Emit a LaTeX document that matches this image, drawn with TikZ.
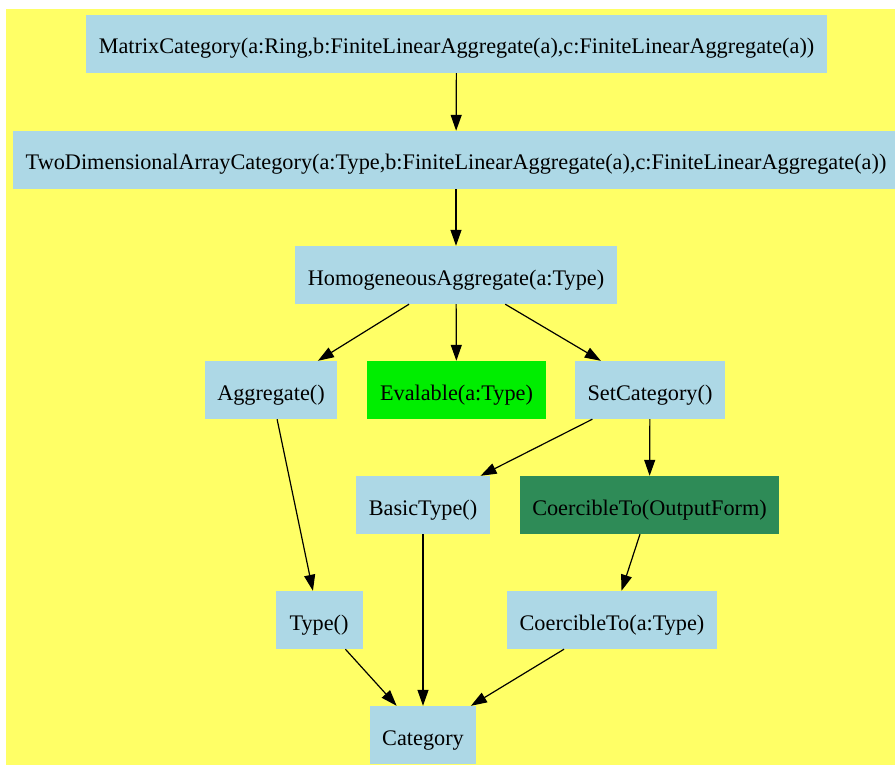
\documentclass[tikz,border=0pt]{standalone}
\usepackage{xcolor}
\usepackage{fontspec}
\setmainfont{Liberation Serif}
\usepackage{tikz}
\usetikzlibrary{arrows.meta}

\definecolor{bgyellow}{HTML}{FFFF66}
\definecolor{boxblue}{HTML}{ADD8E6}
\definecolor{evalgreen}{HTML}{00EE00}
\definecolor{seagreen}{HTML}{2E8B57}

\begin{document}
\begin{tikzpicture}[
    x=1pt, y=-1pt,
    every node/.style={font=\fontsize{22.25}{27}\selectfont},
    cat/.style={rectangle, fill=boxblue, minimum height=58pt,
                minimum width=87pt, inner xsep=12.7pt, inner ysep=0pt,
                text height=24pt, text depth=4pt},
    catgreen/.style={cat, fill=evalgreen},
    catsea/.style={cat, fill=seagreen},
    arr/.style={-{Triangle[length=16pt,width=11pt]}, line width=1.2pt}
  ]

  \useasboundingbox (0,0) rectangle (895,765);
  \fill[bgyellow] (6,9) rectangle (895,765);

  \node[cat]      (mat)   at (456.5,44)  {MatrixCategory(a:Ring,b:FiniteLinearAggregate(a),c:FiniteLinearAggregate(a))};
  \node[cat]      (twod)  at (456,160)   {TwoDimensionalArrayCategory(a:Type,b:FiniteLinearAggregate(a),c:FiniteLinearAggregate(a))};
  \node[cat]      (homog) at (456,275)   {HomogeneousAggregate(a:Type)};

  \node[cat]      (aggr)  at (271,390)   {Aggregate()};
  \node[catgreen] (eval)  at (456.5,390) {Evalable(a:Type)};
  \node[cat]      (setc)  at (650,390)   {SetCategory()};

  \node[cat]      (basic) at (423,505)   {BasicType()};
  \node[catsea]   (coerO) at (649.5,505) {CoercibleTo(OutputForm)};

  \node[cat]      (typ)   at (319,620)   {Type()};
  \node[cat]      (coerT) at (612,620)   {CoercibleTo(a:Type)};

  \node[cat]      (categ) at (423,735)   {Category};

  %% top chain
  \draw[arr] (mat)   -- (twod);
  \draw[arr] (twod)  -- (homog);

  %% fan out
  \draw[arr] (homog) -- (aggr);
  \draw[arr] (homog) -- (eval);
  \draw[arr] (homog) -- (setc);
  \draw[arr] (setc)  -- (basic);
  \draw[arr] (setc)  -- (coerO);
  \draw[arr] (aggr)  -- (typ);
  \draw[arr] (coerO) -- (coerT);

  %% into Category
  \draw[arr] (typ)   -- (categ);
  \draw[arr] (basic) -- (categ);
  \draw[arr] (coerT) -- (categ);

\end{tikzpicture}
\end{document}
